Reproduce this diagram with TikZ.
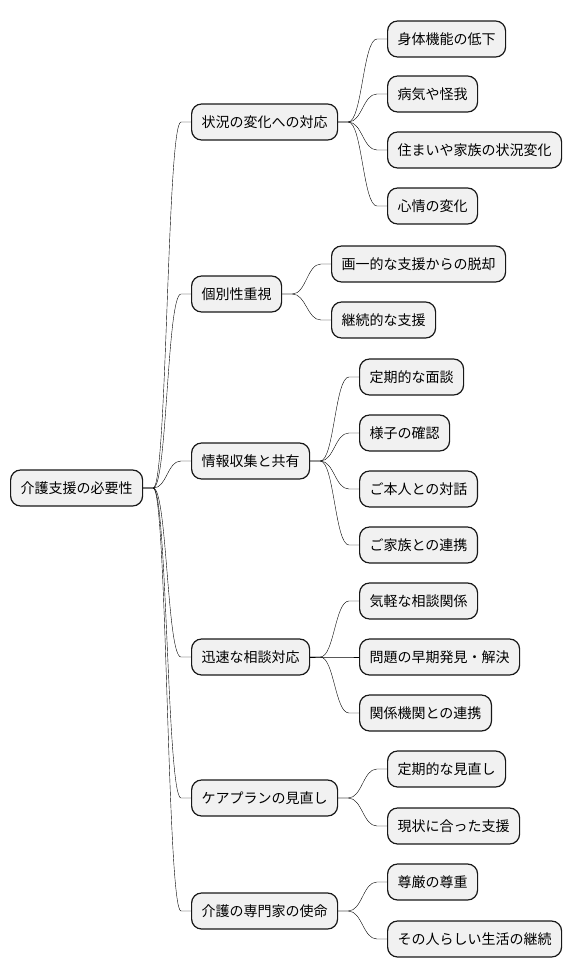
\documentclass[tikz,border=0pt]{standalone}
\usepackage{fontspec}
\setmainfont{Noto Sans CJK JP}
\definecolor{boxfill}{HTML}{F1F1F1}
\definecolor{boxline}{HTML}{181818}
\tikzset{
  topic/.style={draw=boxline, fill=boxfill, line width=1.2pt, rounded corners=10pt,
    minimum height=36pt, inner xsep=10pt, inner ysep=0pt, anchor=west,
    font=\fontsize{14}{16}\selectfont},
  branch/.style={draw=boxline, line width=0.9pt,
    to path={-- ++(10pt,0) .. controls +(14pt,0) and +(-14pt,0)
      .. ([xshift=-10pt]\tikztotarget.west) -- (\tikztotarget.west)}}
}
\begin{document}
\begin{tikzpicture}[x=1pt,y=-1pt]
  \useasboundingbox (0,0) rectangle (572,978);
  \draw
    (10,488) node[topic] (root){介護支援の必要性}
    (191,122) node[topic] (sit){状況の変化への対応}
    (191,294) node[topic] (ind){個別性重視}
    (191,461) node[topic] (info){情報収集と共有}
    (191,657) node[topic] (cons){迅速な相談対応}
    (191,798) node[topic] (plan){ケアプランの見直し}
    (191,911) node[topic] (miss){介護の専門家の使命}
    (387,39) node[topic] (sit1){身体機能の低下}
    (387,94) node[topic] (sit2){病気や怪我}
    (387,150) node[topic] (sit3){住まいや家族の状況変化}
    (387,206) node[topic] (sit4){心情の変化}
    (331,264) node[topic] (ind1){画一的な支援からの脱却}
    (331,320) node[topic] (ind2){継続的な支援}
    (359,377) node[topic] (info1){定期的な面談}
    (359,433) node[topic] (info2){様子の確認}
    (359,489) node[topic] (info3){ご本人との対話}
    (359,545) node[topic] (info4){ご家族との連携}
    (359,601) node[topic] (cons1){気軽な相談関係}
    (359,657) node[topic] (cons2){問題の早期発見・解決}
    (359,713) node[topic] (cons3){関係機関との連携}
    (387,769) node[topic] (plan1){定期的な見直し}
    (387,826) node[topic] (plan2){現状に合った支援}
    (387,882) node[topic] (miss1){尊厳の尊重}
    (387,939) node[topic] (miss2){その人らしい生活の継続};
  \begin{scope}
    \draw (root.east) to[branch] (sit);
    \draw (root.east) to[branch] (ind);
    \draw (root.east) to[branch] (info);
    \draw (root.east) to[branch] (cons);
    \draw (root.east) to[branch] (plan);
    \draw (root.east) to[branch] (miss);
    \draw (sit.east) to[branch] (sit1);
    \draw (sit.east) to[branch] (sit2);
    \draw (sit.east) to[branch] (sit3);
    \draw (sit.east) to[branch] (sit4);
    \draw (ind.east) to[branch] (ind1);
    \draw (ind.east) to[branch] (ind2);
    \draw (info.east) to[branch] (info1);
    \draw (info.east) to[branch] (info2);
    \draw (info.east) to[branch] (info3);
    \draw (info.east) to[branch] (info4);
    \draw (cons.east) to[branch] (cons1);
    \draw (cons.east) to[branch] (cons2);
    \draw (cons.east) to[branch] (cons3);
    \draw (plan.east) to[branch] (plan1);
    \draw (plan.east) to[branch] (plan2);
    \draw (miss.east) to[branch] (miss1);
    \draw (miss.east) to[branch] (miss2);
  \end{scope}
\end{tikzpicture}
\end{document}
